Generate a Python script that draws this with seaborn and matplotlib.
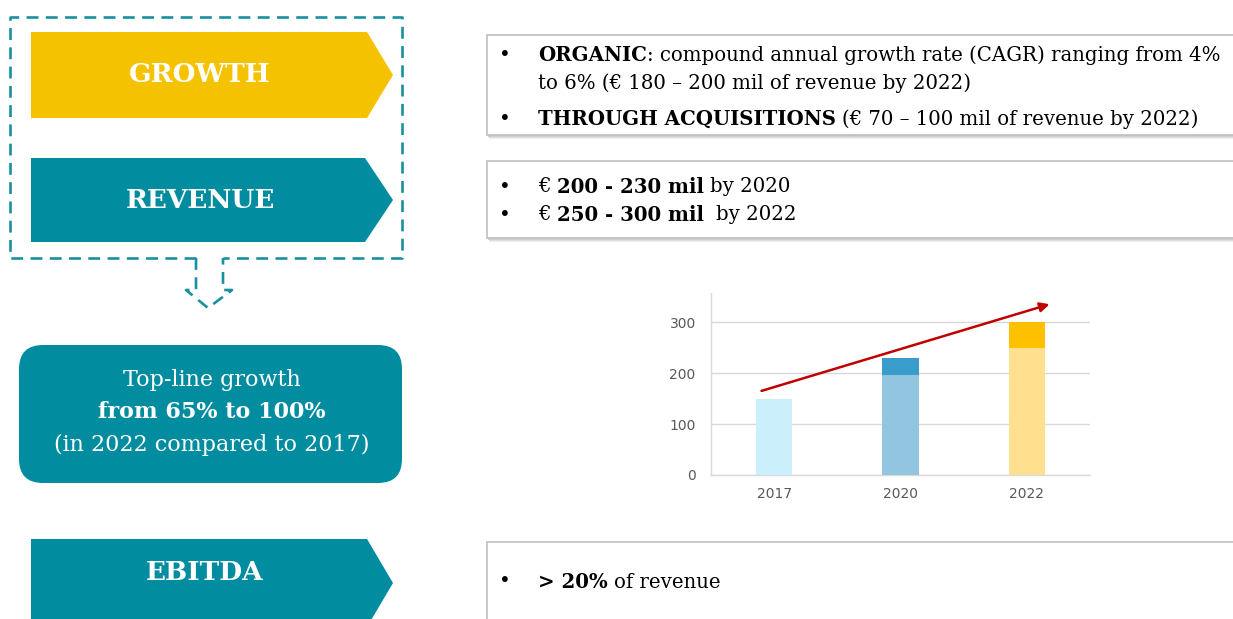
import matplotlib
matplotlib.use("Agg")
import matplotlib.pyplot as plt
from matplotlib.patches import Polygon, Rectangle, FancyBboxPatch
import seaborn as sns
import pandas as pd

# ---------------- data ----------------
years = ["2017", "2020", "2022"]
base_values = [150, 197, 250]      # organic / lower bound
total_values = [150, 230, 300]     # upper bound
base_colors = ["#CCEFFC", "#92C6E0", "#FFE08F"]
top_colors = ["#CCEFFC", "#3A9CCB", "#FFC000"]
y_ticks = [0, 100, 200, 300]
trend_start = (-0.1, 165)
trend_end = (2.18, 335)

growth_lines = [
    [("ORGANIC", True), (": compound annual growth rate (CAGR) ranging from 4%", False)],
    [("to 6% (€ 180 – 200 mil of revenue by 2022)", False)],
    [("THROUGH ACQUISITIONS", True), (" (€ 70 – 100 mil of revenue by 2022)", False)],
]
revenue_lines = [
    [("€ ", False), ("200 - 230 mil", True), (" by 2020", False)],
    [("€ ", False), ("250 - 300 mil", True), ("  by 2022", False)],
]
ebitda_lines = [
    [("> 20%", True), (" of revenue", False)],
]

TEAL = "#028C9F"
YELLOW = "#F5C200"
W, H = 1233, 619

fig = plt.figure(figsize=(W / 100, H / 100), dpi=100)
fig.patch.set_facecolor("white")

ov = fig.add_axes([0, 0, 1, 1])
ov.set_xlim(0, W)
ov.set_ylim(H, 0)
ov.axis("off")
ov.patch.set_alpha(0)

SERIF = "DejaVu Serif"

# ------------- left side shapes -------------
def pentagon(y0, y1, x0=31, x1=367, tip=393, color=TEAL):
    ym = (y0 + y1) / 2
    ov.add_patch(Polygon([(x0, y0), (x1, y0), (tip, ym), (x1, y1), (x0, y1)],
                         closed=True, facecolor=color, edgecolor="none"))

pentagon(32, 118, color=YELLOW)
pentagon(158, 242, x1=365, color=TEAL)
pentagon(539, 627, color=TEAL)

ov.text(200, 74, "GROWTH", ha="center", va="center", color="white",
        fontsize=19, fontweight="bold", family=SERIF)
ov.text(200, 201, "REVENUE", ha="center", va="center", color="white",
        fontsize=19, fontweight="bold", family=SERIF)
ov.text(205, 572, "EBITDA", ha="center", va="center", color="white",
        fontsize=19, fontweight="bold", family=SERIF)

dash_kw = dict(color="#1A8FA0", lw=1.9, linestyle=(0, (4.5, 2.8)))
ov.plot([196, 10, 10, 402, 402, 223], [258, 258, 17, 17, 258, 258], **dash_kw)
ov.plot([196, 196, 186, 208, 232, 223, 223], [258, 290, 290, 308, 290, 290, 258], **dash_kw)

ov.add_patch(FancyBboxPatch((19 + 24, 345 + 24), 383 - 48, 138 - 48,
                            boxstyle="round,pad=24", facecolor=TEAL, edgecolor="none"))
ov.text(212, 380, "Top-line growth", ha="center", va="center", color="white",
        fontsize=16, family=SERIF)
ov.text(212, 412, "from 65% to 100%", ha="center", va="center", color="white",
        fontsize=16, fontweight="bold", family=SERIF)
ov.text(212, 445, "(in 2022 compared to 2017)", ha="center", va="center", color="white",
        fontsize=16, family=SERIF)

# ------------- right side text boxes -------------
def text_box(y0, y1):
    for off, col in [(4, "#EEEEEE"), (3, "#E0E0E0"), (2, "#CFCFCF")]:
        ov.add_patch(Rectangle((487 + off / 2, y0 + off), 760, y1 - y0, facecolor=col,
                               edgecolor="none", zorder=1))
    ov.add_patch(Rectangle((487, y0), 760, y1 - y0, facecolor="white",
                           edgecolor="#BFBFBF", lw=1.2, zorder=2))

text_box(35, 135)
text_box(161, 238)
text_box(542, 640)

renderer = fig.canvas.get_renderer()
FS = 14.2

def width_of(s, bold):
    t = ov.text(0, 0, s, fontsize=FS, family=SERIF, fontweight="bold" if bold else "normal")
    w = t.get_window_extent(renderer=renderer).width
    t.remove()
    return w

SPACE = width_of("x x", False) - width_of("xx", False)

def draw_runs(y, parts, x=538):
    for s, bold in parts:
        lead = len(s) - len(s.lstrip(" "))
        trail = len(s) - len(s.rstrip(" "))
        x += lead * SPACE
        core = s.strip(" ")
        t = ov.text(x, y, core, fontsize=FS, family=SERIF, va="center", ha="left",
                    fontweight="bold" if bold else "normal", color="black", zorder=3)
        x += t.get_window_extent(renderer=renderer).width + trail * SPACE

def draw_line(y, parts, bullet=True):
    if bullet:
        ov.text(505, y, "•", fontsize=FS, family=SERIF, va="center", ha="center", zorder=3)
    draw_runs(y, parts)

draw_line(55, growth_lines[0])
draw_line(83, growth_lines[1], bullet=False)
draw_line(119, growth_lines[2])
draw_line(187, revenue_lines[0])
draw_line(215, revenue_lines[1])
draw_line(582, ebitda_lines[0])

# ------------- bar chart -------------
ax = fig.add_axes([711 / W, (H - 475) / H, 379 / W, 182 / H])
df = pd.DataFrame({"year": years, "base": base_values, "total": total_values})
sns.barplot(data=df, x="year", y="total", hue="year", palette=top_colors,
            width=0.29, saturation=1, legend=False, ax=ax, zorder=2)
sns.barplot(data=df, x="year", y="base", hue="year", palette=base_colors,
            width=0.29, saturation=1, legend=False, ax=ax, zorder=3)
ax.set_xlim(-0.5, 2.5)
ax.set_ylim(0, 357)
ax.set_yticks(y_ticks)
ax.set_xlabel("")
ax.set_ylabel("")
ax.grid(axis="y", color="#D9D9D9", lw=1, zorder=0)
ax.set_axisbelow(True)
for side in ["top", "right"]:
    ax.spines[side].set_visible(False)
for side in ["left", "bottom"]:
    ax.spines[side].set_color("#D9D9D9")
    ax.spines[side].set_linewidth(1)
ax.tick_params(length=0, colors="#595959", labelsize=10)
ax.tick_params(axis="y", pad=11)
ax.tick_params(axis="x", pad=9)
ax.patch.set_alpha(0)
ax.annotate("", xy=trend_end, xytext=trend_start,
            arrowprops=dict(arrowstyle="-|>", color="#C00000", lw=1.8,
                            mutation_scale=14, shrinkA=0, shrinkB=0), zorder=5)

fig.savefig("out.png", dpi=100, facecolor="white")
